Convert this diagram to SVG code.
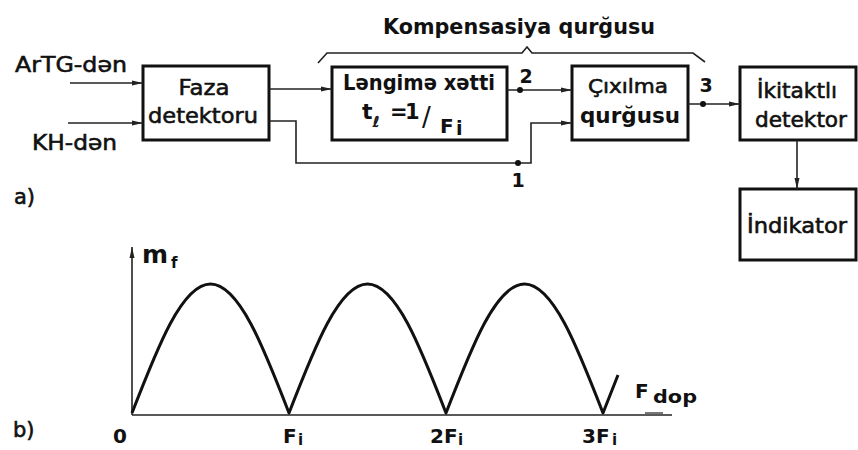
<svg xmlns="http://www.w3.org/2000/svg" width="858" height="450" viewBox="0 0 858 450">
<style>
.box{fill:#fff;stroke:#111;stroke-width:3}
.ln{fill:none;stroke:#222;stroke-width:1.6}
.t{font-family:"DejaVu Sans",sans-serif;fill:#111;stroke:#111;stroke-width:0.6}
.b{font-family:"DejaVu Sans",sans-serif;fill:#111;font-weight:bold}
.dot{fill:#111}
</style>
<defs>
<marker id="ar" markerUnits="userSpaceOnUse" markerWidth="12" markerHeight="8" refX="11" refY="4" orient="auto">
<path d="M0,1.5 L11,4 L0,6.5 Z" fill="#222"/>
</marker>
</defs>
<rect width="858" height="450" fill="#fff"/>

<g id="labels">
<text class="t" x="15" y="72" font-size="22" textLength="112" lengthAdjust="spacingAndGlyphs">ArTG-dən</text>
<text class="t" x="32" y="150" font-size="22" textLength="85" lengthAdjust="spacingAndGlyphs">KH-dən</text>
<text class="t" x="14" y="204" font-size="21">a)</text>
<text class="t" x="13" y="437" font-size="21">b)</text>
<text class="b" x="383" y="34" font-size="21" textLength="272" lengthAdjust="spacingAndGlyphs">Kompensasiya qurğusu</text>
<path class="ln" d="M318,63 L327,53 L522,53 L527,47 L532,53 L693,53 L705,62"/>
</g>

<g id="faza">
<rect class="box" x="143" y="66" width="126" height="74"/>
<text class="t" x="204" y="95" font-size="22" text-anchor="middle" textLength="51" lengthAdjust="spacingAndGlyphs">Faza</text>
<text class="t" x="203" y="123" font-size="22" text-anchor="middle" textLength="110" lengthAdjust="spacingAndGlyphs">detektoru</text>
</g>

<g id="lengime">
<rect class="box" x="332" y="67" width="175" height="73"/>
<text class="b" x="419" y="90" font-size="21" textLength="152" text-anchor="middle" lengthAdjust="spacingAndGlyphs">Ləngimə xətti</text>
<text class="b" x="362" y="119" font-size="22">t</text>
<text class="t" x="373" y="127" font-size="15" font-style="italic">ℓ</text>
<text class="b" y="119" font-size="21"><tspan x="390">=</tspan><tspan x="405">1</tspan><tspan x="422" y="126" font-size="26" font-weight="normal">/</tspan><tspan x="440" y="133" font-size="20">F</tspan><tspan x="456" y="135" font-size="19">i</tspan></text>
</g>

<g id="cixilma">
<rect class="box" x="572" y="66" width="116" height="74"/>
<text class="t" x="628" y="93" font-size="20" text-anchor="middle" textLength="80" lengthAdjust="spacingAndGlyphs">Çıxılma</text>
<text class="b" x="630" y="123" font-size="22" text-anchor="middle" textLength="100" lengthAdjust="spacingAndGlyphs">qurğusu</text>
</g>

<g id="ikitaktli">
<rect class="box" x="740" y="67" width="116" height="73"/>
<text class="t" x="797" y="98" font-size="21" text-anchor="middle" textLength="80" lengthAdjust="spacingAndGlyphs">İkitaktlı</text>
<text class="t" x="801" y="127" font-size="21" text-anchor="middle" textLength="92" lengthAdjust="spacingAndGlyphs">detektor</text>
</g>

<g id="indikator">
<rect class="box" x="740" y="189" width="116" height="71"/>
<text class="t" x="797" y="233" font-size="21" text-anchor="middle" textLength="100" lengthAdjust="spacingAndGlyphs">İndikator</text>
</g>

<g id="connectors">
<path class="ln" d="M70,83 L143,83" marker-end="url(#ar)"/>
<path class="ln" d="M68,123 L143,123" marker-end="url(#ar)"/>
<path class="ln" d="M269,89 L332,89" marker-end="url(#ar)"/>
<path class="ln" d="M269,121 L296,121 L296,163 L531,163 L531,123 L572,123" marker-end="url(#ar)"/>
<path class="ln" d="M507,90 L572,90" marker-end="url(#ar)"/>
<path class="ln" d="M688,104 L740,104" marker-end="url(#ar)"/>
<path class="ln" d="M797,140 L797,189" marker-end="url(#ar)"/>
<circle class="dot" cx="518" cy="163" r="3"/>
<circle class="dot" cx="520" cy="90" r="3"/>
<circle class="dot" cx="703" cy="104" r="3"/>
<text class="b" x="526" y="83" font-size="19" text-anchor="middle">2</text>
<text class="b" x="518" y="187" font-size="19" text-anchor="middle">1</text>
<text class="b" x="706" y="92" font-size="19" text-anchor="middle">3</text>
</g>

<g id="plot">
<path class="ln" d="M132,415 L132,247" marker-end="url(#ar)"/>
<path class="ln" d="M132,415 L672,415"/>
<path d="M645,413 L663,413" stroke="#777" stroke-width="2"/>
<path fill="none" stroke="#111" stroke-width="3" stroke-linejoin="round" d="M132,413 C157.6,346.9 182.1,284 210.5,284 C238.9,284 263.4,346.9 289,413 C314.6,346.9 339.1,284 367.5,284 C395.9,284 420.4,346.9 446,413 C471.6,346.9 496.1,284 524.5,284 C552.9,284 577.4,346.9 603,413 L618,375"/>
<text class="b" x="142" y="263" font-size="25">m</text>
<text class="b" x="171" y="268" font-size="15">f</text>
<text class="b" x="635" y="398" font-size="20">F</text>
<text class="b" x="653" y="403" font-size="18" textLength="44" lengthAdjust="spacingAndGlyphs">dop</text>
<text class="b" x="113" y="443" font-size="20">0</text>
<text class="b" x="283" y="443" font-size="20">F</text>
<text class="b" x="298" y="445" font-size="15">i</text>
<text class="b" x="430" y="443" font-size="20">2F</text>
<text class="b" x="458" y="445" font-size="15">i</text>
<text class="b" x="582" y="443" font-size="20">3F</text>
<text class="b" x="612" y="445" font-size="15">i</text>
</g>
</svg>
